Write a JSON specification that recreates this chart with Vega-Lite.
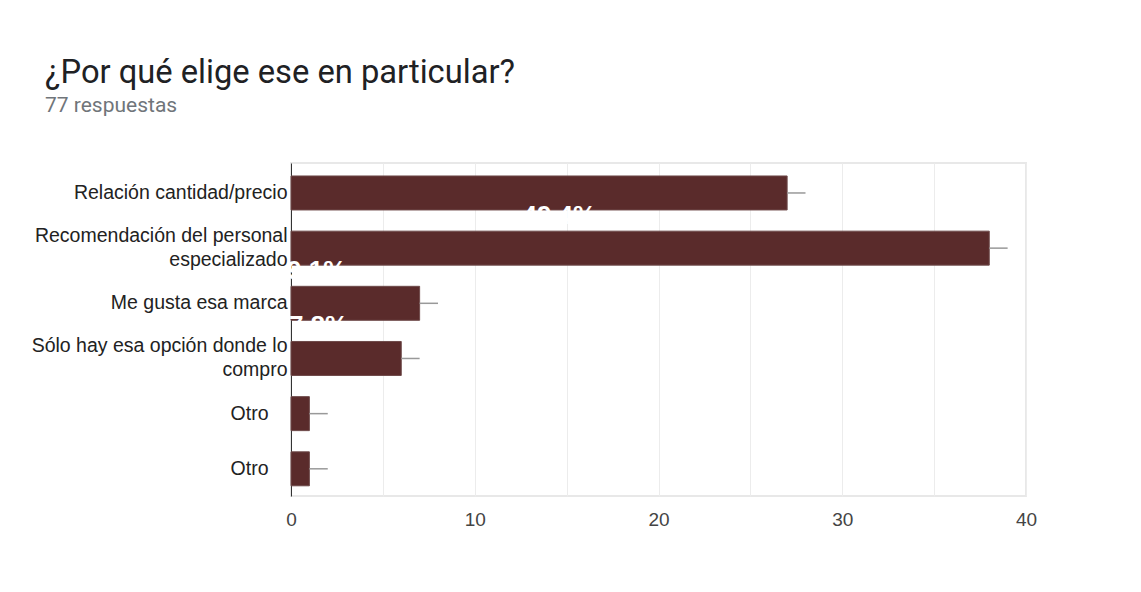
{
  "$schema": "https://vega.github.io/schema/vega-lite/v6.json",
  "width": 735,
  "height": 333,
  "autosize": {"type": "none"},
  "padding": {"left": 291, "top": 163, "right": 115, "bottom": 96},
  "background": "white",
  "title": {
    "text": "¿Por qué elige ese en particular?",
    "subtitle": "77 respuestas",
    "anchor": "start",
    "frame": "group",
    "dx": -246,
    "offset": 47,
    "font": "Roboto",
    "fontSize": 32.7,
    "fontWeight": "normal",
    "color": "#202124",
    "subtitleFont": "Roboto",
    "subtitleFontSize": 21,
    "subtitleColor": "#70757a",
    "subtitlePadding": 5
  },
  "datasets": {
    "bars": [
      {"k": "Relación cantidad/precio", "v": 27, "e": 28},
      {"k": "Recomendación del personal~especializado", "v": 38, "e": 39},
      {"k": "Me gusta esa marca", "v": 7, "e": 8},
      {"k": "Sólo hay esa opción donde lo~compro", "v": 6, "e": 7},
      {"k": "Otro#1", "v": 1, "e": 2},
      {"k": "Otro#2", "v": 1, "e": 2}
    ],
    "pct": [
      {"k": "Relación cantidad/precio", "x": 14.6, "t": "49.4%"},
      {"k": "Recomendación del personal~especializado", "x": 1.4, "t": "9.1%"},
      {"k": "Me gusta esa marca", "x": 1.5, "t": "7.8%"}
    ]
  },
  "config": {
    "view": {"stroke": "#e8e8e8", "strokeWidth": 2},
    "font": "Liberation Sans"
  },
  "layer": [
    {
      "data": {"name": "bars"},
      "mark": {"type": "bar", "color": "#5a2b2b", "stroke": "#6e4a4a", "strokeWidth": 1},
      "encoding": {
        "y": {
          "field": "k", "type": "nominal", "title": null,
          "scale": {
            "domain": ["Relación cantidad/precio", "Recomendación del personal~especializado", "Me gusta esa marca", "Sólo hay esa opción donde lo~compro", "Otro#1", "Otro#2"],
            "paddingInner": 0.384, "paddingOuter": 0.21, "align": 0.56
          },
          "axis": {
            "labelExpr": "indexof(datum.label, 'Otro') == 0 ? 'Otro' : split(datum.label, '~')",
            "labelOffset": {"condition": {"test": "indexof(datum.value, '~') >= 0", "value": -12}, "value": 0},
            "labelPadding": {"condition": {"test": "indexof(datum.value, 'Otro') == 0", "value": 23}, "value": 4},
            "ticks": false,
            "domain": true,
            "domainColor": "#333333",
            "domainWidth": 1,
            "labelFont": "Liberation Sans",
            "labelFontSize": 19.5,
            "labelColor": "#222222",
            "labelLineHeight": 24,
            "labelLimit": 300,
            "grid": false
          }
        },
        "x": {
          "field": "v", "type": "quantitative", "title": null,
          "scale": {"domain": [0, 40], "nice": false},
          "axis": {
            "values": [0, 5, 10, 15, 20, 25, 30, 35, 40],
            "labelExpr": "datum.value % 10 == 0 ? datum.label : ''",
            "labelFlush": false,
            "grid": true,
            "gridColor": "#ececec",
            "gridWidth": 1,
            "ticks": false,
            "domain": false,
            "labelPadding": 14,
            "labelFont": "Liberation Sans",
            "labelFontSize": 19,
            "labelColor": "#444444"
          }
        }
      }
    },
    {
      "data": {"name": "bars"},
      "mark": {"type": "rule", "color": "#999999", "strokeWidth": 1.5},
      "encoding": {
        "y": {"field": "k", "type": "nominal"},
        "x": {"field": "v", "type": "quantitative"},
        "x2": {"field": "e"}
      }
    },
    {
      "data": {"name": "pct"},
      "mark": {"type": "text", "color": "white", "font": "Liberation Sans", "fontSize": 26, "fontWeight": "bold", "dy": 23, "baseline": "middle", "align": "center"},
      "encoding": {
        "y": {"field": "k", "type": "nominal"},
        "x": {"field": "x", "type": "quantitative"},
        "text": {"field": "t"}
      }
    }
  ]
}
